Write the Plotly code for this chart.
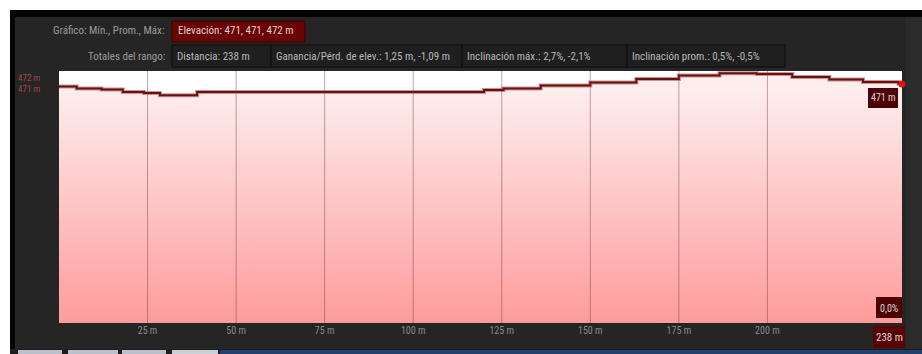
import plotly.graph_objects as go

# perfil de elevación (distancia en m, elevación en m)
distancia = [0, 5, 12, 18, 24, 28.5, 39, 114.5, 120, 125.5, 136, 150, 163, 175, 186.5, 197, 207, 217.5, 227, 237, 238]
elevacion = [471.53, 471.42, 471.37, 471.25, 471.2, 471.09, 471.25, 471.25, 471.35, 471.43, 471.58,
             471.73, 471.9, 472.08, 472.19, 472.15, 472.0, 471.88, 471.75, 471.66, 471.65]

tick_vals = [25, 50, 75, 100, 125, 150, 175, 200]
tick_text = ["25 m", "50 m", "75 m", "100 m", "125 m", "150 m", "175 m", "200 m"]

resumen_elev = "Elevación: 471, 471, 472 m"
totales = ["Distancia: 238 m", "Ganancia/Pérd. de elev.: 1,25 m, -1,09 m",
           "Inclinación máx.: 2,7%, -2,1%", "Inclinación prom.: 0,5%, -0,5%"]

W, H = 922, 354
L, R, T, B = 59, 902, 71, 323
FONT = "Roboto Condensed, Liberation Sans Narrow, Roboto, sans-serif"
y_rng = [459.7, 472.3]


def px(x):
    return (x - L) / (R - L)


def py(y):
    return (B - y) / (B - T)


def rect(x0, y0, x1, y1, fill, line=None, layer="above"):
    return dict(type="rect", xref="paper", yref="paper", x0=px(x0), x1=px(x1), y0=py(y1), y1=py(y0),
                fillcolor=fill, line=dict(width=1 if line else 0, color=line or fill), layer=layer)


def label(x, y, text, color="#d8d8d8", size=11, anchor="left"):
    return dict(xref="paper", yref="paper", x=px(x), y=py(y), text=text, showarrow=False,
                xanchor=anchor, yanchor="middle", font=dict(family=FONT, size=size, color=color))


fig = go.Figure()
fig.add_trace(go.Scatter(
    x=distancia, y=elevacion, mode="lines", line=dict(color="#c99494", width=4, shape="hv"),
    fill="tozeroy",
    fillgradient=dict(type="vertical", colorscale=[[0, "#ff9b9b"], [1, "#fdeded"]],
                      start=y_rng[0], stop=471.3),
    hoverinfo="skip"))
fig.add_trace(go.Scatter(
    x=distancia, y=elevacion, mode="lines", line=dict(color="#6a0e0e", width=2, shape="hv"),
    hoverinfo="skip"))
fig.add_trace(go.Scatter(
    x=[distancia[-1]], y=[elevacion[-1]], mode="markers", cliponaxis=False,
    marker=dict(color="#e01010", size=7), hoverinfo="skip"))

shapes = [
    # marco
    rect(0, 0, W, 10, "white", layer="below"),
    rect(0, 0, 10, H, "white", layer="below"),
    rect(10, 10, W, 17, "#050505", layer="below"),
    rect(10, 10, 15, 350, "#050505", layer="below"),
    # pestañas inferiores
    rect(10, 349, W, H, "#1d1d1d", layer="below"),
    rect(18, 350, 62, H, "#b9c2cc", layer="below"),
    rect(68, 350, 118, H, "#b9c2cc", layer="below"),
    rect(122, 350, 166, H, "#b9c2cc", layer="below"),
    rect(172, 350, 218, H, "#c9d0d8", layer="below"),
    rect(220, 350, W, H, "#22406e", layer="below"),
    # cabecera
    rect(172, 21, 305, 42, "#6a0303", line="#3a0000", layer="below"),
    rect(172, 45, 785, 67, "#1c1c1c", line="#141414", layer="below"),
    # borde derecho
    rect(906, 17, W, 349, "#2b2b2b"),
]
# cuadros de totales
bordes = [172, 271, 462, 627, 785]
for i in range(len(totales)):
    shapes.append(rect(bordes[i], 45, bordes[i + 1], 67, "#1f1f1f", line="#101010", layer="below"))

# líneas verticales de cuadrícula sobre el relleno
for v in tick_vals:
    shapes.append(dict(type="line", xref="x", yref="paper", x0=v, x1=v, y0=0, y1=1,
                       line=dict(color="rgba(110,60,60,0.45)", width=1), layer="above"))

# etiquetas de valores a la derecha
shapes += [
    rect(868, 88, 898, 108, "#4d0303"),
    rect(876, 297, 902, 318, "#4d0303"),
    rect(873, 326, 905, 348, "#5a0303"),
]

annotations = [
    label(167, 31, "Gráfico: Mín., Prom., Máx:", color="#9c9c9c", anchor="right"),
    label(176, 31, resumen_elev, color="#e0d0d0"),
    label(167, 56, "Totales del rango:", color="#9c9c9c", anchor="right"),
    label(883, 98, "471 m", size=10, anchor="center"),
    label(889, 308, "0,0%", size=10, anchor="center"),
    label(889, 337, "238 m", size=11, anchor="center"),
    label(29, 78, "472 m", color="#a04848", size=9, anchor="center"),
    label(29, 89, "471 m", color="#a04848", size=9, anchor="center"),
]
for i, t in enumerate(totales):
    annotations.append(label(bordes[i] + 3, 56, t, color="#b8b8b8"))

fig.update_layout(
    width=W, height=H, margin=dict(l=L, r=W - R, t=T, b=H - B),
    paper_bgcolor="#252525", plot_bgcolor="white", showlegend=False,
    font=dict(family=FONT, color="#8a8a8a", size=10),
    xaxis=dict(range=[0, 238], tickvals=tick_vals, ticktext=tick_text, showgrid=False,
               zeroline=False, showline=False, ticks="", fixedrange=True,
               tickfont=dict(size=10, color="#8a8a8a")),
    yaxis=dict(range=y_rng, showgrid=False, zeroline=False, showticklabels=False,
               showline=False, ticks="", fixedrange=True),
    shapes=shapes, annotations=annotations,
)

fig.write_html("out.html", config={"displayModeBar": False},
               post_script="document.body.style.margin='0';document.body.style.overflow='hidden';"
                           "document.documentElement.style.overflow='hidden';"
                           "document.body.style.background='#2a2a2a';")
